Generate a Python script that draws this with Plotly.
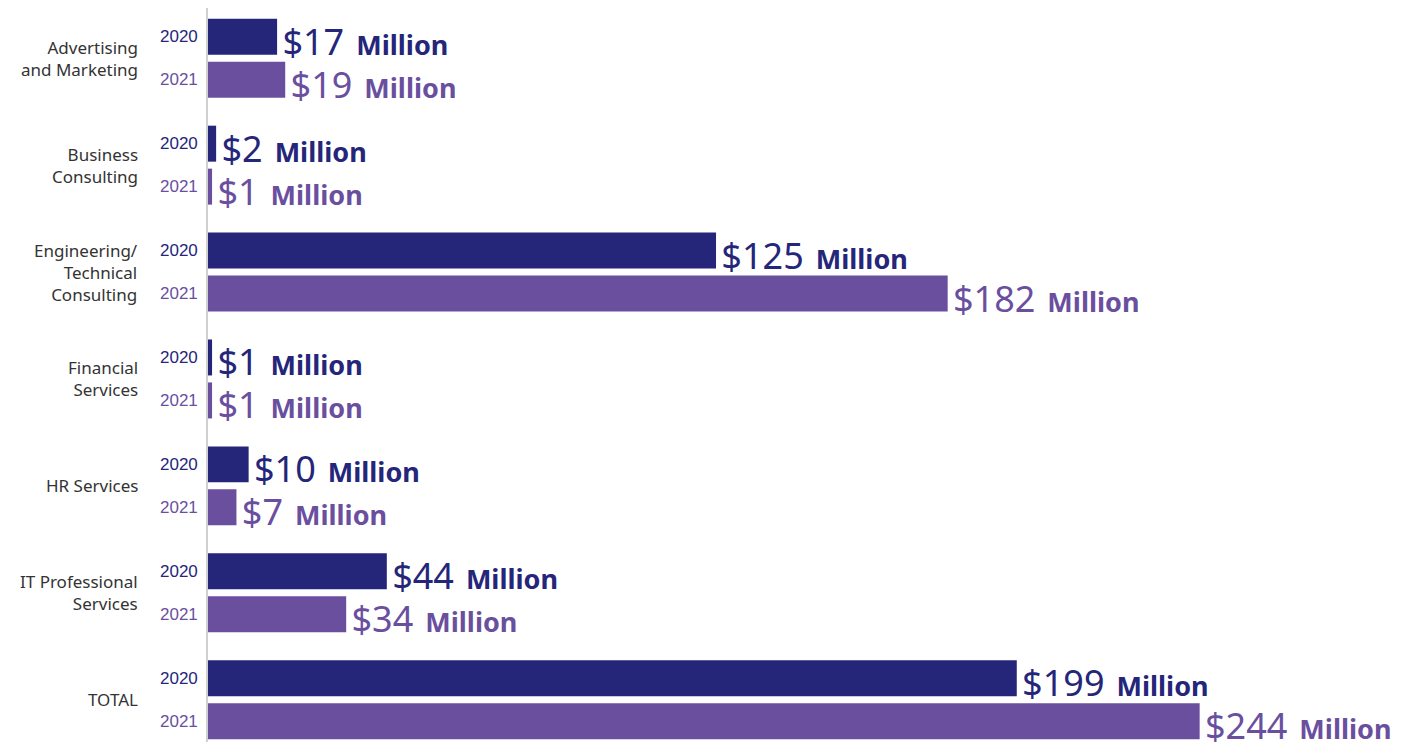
import plotly.graph_objects as go

categories = ["Advertising<br>and Marketing", "Business<br>Consulting",
              "Engineering/<br>Technical<br>Consulting", "Financial<br>Services",
              "HR Services", "IT Professional<br>Services", "TOTAL"]
years = ["2020", "2021"]
values_2020 = [17, 2, 125, 1, 10, 44, 199]
values_2021 = [19, 1, 182, 1, 7, 34, 244]
colors = {"2020": "#25267a", "2021": "#6a4f9f"}

FONT = "Noto Sans"

def label(v):
    return (f'<span style="font-size:9px"> </span>'
            f'<span style="font-size:36px">${v}</span>'
            f'<span style="font-size:46px"> </span>'
            f'<b><span style="font-size:27px">Million</span></b>')

fig = go.Figure()
for yr, vals in zip(years, [values_2020, values_2021]):
    fig.add_trace(go.Bar(
        y=categories, x=vals, orientation="h", name=yr,
        marker=dict(color=colors[yr], line=dict(width=0)),
        text=[label(v) for v in vals], textposition="outside",
        textfont=dict(family=FONT, color=colors[yr], size=27),
        constraintext="none", cliponaxis=False,
    ))

annotations = []
for cat in categories:
    annotations.append(dict(xref="paper", yref="y", x=0, y=cat, xanchor="right",
                            xshift=-68, text=cat, showarrow=False, align="right",
                            font=dict(family=FONT, size=17, color="#333333")))
    for yr, shift in zip(years, [21.5, -21.5]):
        annotations.append(dict(xref="paper", yref="y", x=0, y=cat, xanchor="right",
                                xshift=-8, yshift=shift, text=yr, showarrow=False,
                                font=dict(family="Liberation Sans", size=17,
                                          color=colors[yr])))

fig.update_layout(
    width=1403, height=734,
    barmode="group", bargap=0.196, bargroupgap=0.163,
    margin=dict(l=200, r=0, t=0, b=0),
    plot_bgcolor="white", paper_bgcolor="white",
    showlegend=False,
    annotations=annotations,
    xaxis=dict(visible=False, range=[0, 296]),
    yaxis=dict(range=[6.396, -0.47], showticklabels=False, ticks="",
               showline=True, linecolor="#d0d0d0", linewidth=2,
               showgrid=False, zeroline=False),
)

fig.write_html("out.html")
